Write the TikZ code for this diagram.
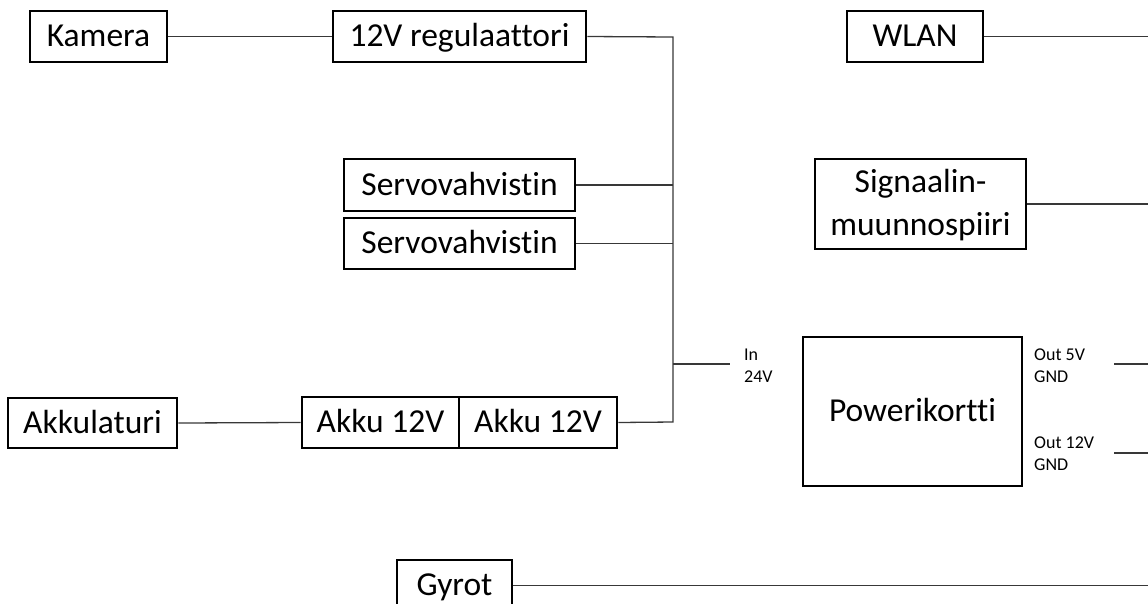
\documentclass[tikz,border=0pt]{standalone}
\usepackage{fontspec}
\setmainfont{Carlito}[Ligatures=NoCommon,RawFeature={-liga}]
\begin{document}
\begin{tikzpicture}[x=1pt,y=-1pt,
  blk/.style={draw=black,line width=2.9pt,inner sep=0pt,align=center,
    text height=20pt,text depth=0pt,
    font=\fontsize{33.5}{43}\selectfont},
  wire/.style={draw=black!78,line width=1.3pt},
  pin/.style={inner sep=0pt,anchor=west,align=left,
    font=\fontsize{18}{22}\selectfont}]
\useasboundingbox (0,0) rectangle (1148,603);

% blocks
\node[blk,minimum width=137pt,minimum height=51pt] (kam) at (98.5,36.5) {Kamera};
\node[blk,minimum width=253pt,minimum height=51pt] (reg) at (459.5,36.5) {12V regulaattori};
\node[blk,minimum width=136pt,minimum height=51pt] (wlan) at (915,36.5) {WLAN};
\node[blk,minimum width=231pt,minimum height=52pt] (servoa) at (459.5,185) {Servovahvistin};
\node[blk,minimum width=231pt,minimum height=51pt] (servob) at (459.5,243.5) {Servovahvistin};
\node[blk,minimum width=211pt,minimum height=90pt,text height=63pt] (sig) at (920.5,204) {Signaalin-\\muunnospiiri};
\node[blk,minimum width=219pt,minimum height=149pt] (power) at (912.5,411.5) {Powerikortti};
\node[blk,minimum width=169pt,minimum height=50pt] (laturi) at (92.5,423) {Akkulaturi};
\node[blk,minimum width=157pt,minimum height=51pt] (akkua) at (380.5,422.5) {Akku 12V};
\node[blk,minimum width=158pt,minimum height=51pt] (akkub) at (538,422.5) {Akku 12V};
\node[blk,minimum width=115pt,minimum height=51pt] (gyro) at (454.5,585.5) {Gyrot};

% pin labels of the power board
\node[pin] (inlbl) at (744,366) {In\\24V};
\node[pin] (out5) at (1034,366) {Out 5V\\GND};
\node[pin] (out12) at (1034,454) {Out 12V\\GND};

% supply bus
\coordinate (bustop) at (673,37);
\coordinate (busbot) at (673,422);
\coordinate (inend) at (730,364);
\coordinate (edge) at (1148,0);
\coordinate (outa) at (1114,364);
\coordinate (outb) at (1114,453);

\draw[wire] (kam.east) -- (reg.west);
\draw[wire] (reg.east) -- (bustop) -- (busbot) -- (akkub.east);
\draw[wire] (servoa.east) -- (servoa.east -| bustop);
\draw[wire] (servob.east) -- (servob.east -| bustop);
\draw[wire] (inend -| bustop) -- (inend);
\draw[wire] (laturi.east) -- (akkua.west);
\draw[wire] (wlan.east) -- (wlan.east -| edge);
\draw[wire] (sig.east) -- (sig.east -| edge);
\draw[wire] (outa) -- (outa -| edge);
\draw[wire] (outb) -- (outb -| edge);
\draw[wire] (gyro.east) -- (gyro.east -| edge);
\end{tikzpicture}
\end{document}
